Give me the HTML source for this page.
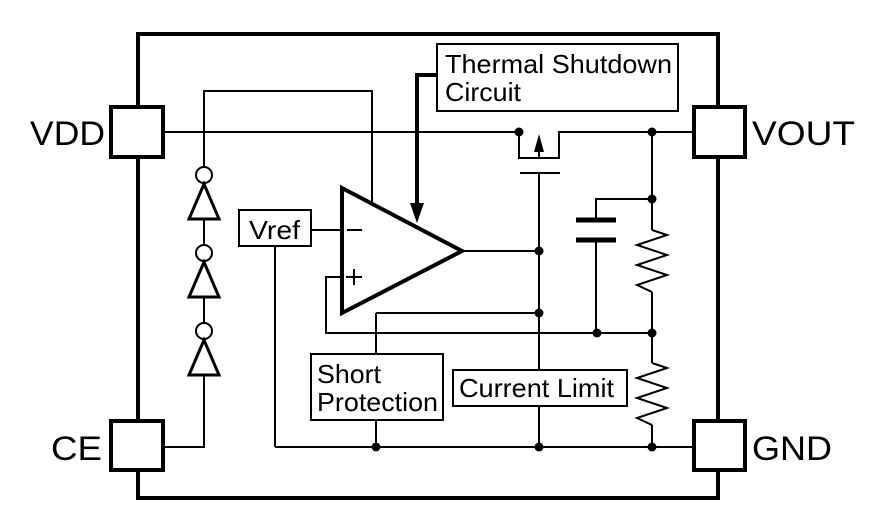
<!DOCTYPE html>
<html><head><meta charset="utf-8"><style>
html,body{margin:0;padding:0;background:#fff;}
svg{display:block;}
text{font-family:"Liberation Sans",Arial,sans-serif;fill:#000;}
</style></head><body>
<svg width="880" height="525" viewBox="0 0 880 525" xmlns="http://www.w3.org/2000/svg">
<g fill="none" stroke="#000">
<rect x="138" y="34" width="580" height="464" stroke-width="4"/>
<rect x="111" y="107" width="52" height="50" stroke-width="4" fill="#fff"/>
<rect x="111" y="421" width="52" height="49" stroke-width="4" fill="#fff"/>
<rect x="694" y="107" width="51" height="50" stroke-width="4" fill="#fff"/>
<rect x="694" y="421" width="51" height="49" stroke-width="4" fill="#fff"/>
<g stroke-width="2">
<line x1="163" y1="132" x2="519" y2="132"/>
<polyline points="519,132 519,158 559,158 559,132 694,132"/>
<line x1="539" y1="150" x2="539" y2="158"/>
<line x1="520" y1="173" x2="560" y2="173"/>
<line x1="539" y1="173" x2="539" y2="447"/>
<polyline points="204,167 204,91 372,91 372,204"/>
<line x1="204" y1="219" x2="204" y2="245"/>
<line x1="204" y1="297" x2="204" y2="323"/>
<polyline points="204,375 204,447 163,447"/>
<line x1="311" y1="230" x2="342" y2="230"/>
<line x1="275" y1="246" x2="275" y2="447"/>
<line x1="275" y1="447" x2="694" y2="447"/>
<polyline points="342,277 326,277 326,333 652,333"/>
<line x1="462" y1="251" x2="539" y2="251"/>
<line x1="376" y1="313" x2="539" y2="313"/>
<line x1="376" y1="313" x2="376" y2="354"/>
<line x1="376" y1="420" x2="376" y2="447"/>
<line x1="652" y1="132" x2="652" y2="230"/>
<polyline points="652,230 667,235 637,245 667,255 637,265 667,275 637,285 652,292"/>
<line x1="652" y1="292" x2="652" y2="363"/>
<polyline points="652,363 667,368 637,378 667,388 637,398 667,408 637,418 652,425"/>
<line x1="652" y1="425" x2="652" y2="447"/>
<polyline points="652,199 596,199 596,220"/>
<line x1="596" y1="240" x2="596" y2="333"/>
<line x1="347" y1="230" x2="362" y2="230"/>
<line x1="346" y1="277" x2="362" y2="277"/>
<line x1="354" y1="269" x2="354" y2="285"/>
<rect x="239" y="210" width="72" height="36" fill="#fff"/>
<rect x="437" y="44" width="241" height="67" fill="#fff"/>
<rect x="311" y="354" width="132" height="66" fill="#fff"/>
<rect x="453" y="370" width="174" height="36" fill="#fff"/>
<circle cx="204" cy="175" r="8"/>
<circle cx="204" cy="253" r="8"/>
<circle cx="204" cy="331" r="8"/>
</g>
<line x1="576" y1="220" x2="616" y2="220" stroke-width="5"/>
<line x1="576" y1="240" x2="616" y2="240" stroke-width="5"/>
<polygon points="204,184 189,219 219,219" stroke-width="3"/>
<polygon points="204,262 189,297 219,297" stroke-width="3"/>
<polygon points="204,340 189,375 219,375" stroke-width="3"/>
<polygon points="342,188 342,313 462,251" stroke-width="4"/>
<polyline points="437,75 417,75 417,205" stroke-width="4"/>
</g>
<polygon points="410,203 424,203 417,223" fill="#000"/>
<polygon points="539,134 534,152 544,152" fill="#000"/>
<g fill="#000">
<circle cx="519" cy="132" r="4.5"/><circle cx="652" cy="132" r="4.5"/>
<circle cx="652" cy="199" r="4.5"/><circle cx="539" cy="251" r="4.5"/>
<circle cx="539" cy="313" r="4.5"/><circle cx="597" cy="333" r="4.5"/>
<circle cx="652" cy="333" r="4.5"/><circle cx="376" cy="447" r="4.5"/>
<circle cx="539" cy="447" r="4.5"/><circle cx="652" cy="447" r="4.5"/>
</g>
<text x="30" y="145" font-size="34" textLength="75" lengthAdjust="spacingAndGlyphs">VDD</text>
<text x="51" y="460" font-size="34" textLength="51" lengthAdjust="spacingAndGlyphs">CE</text>
<text x="752" y="145" font-size="34" textLength="103" lengthAdjust="spacingAndGlyphs">VOUT</text>
<text x="752" y="460" font-size="34" textLength="80" lengthAdjust="spacingAndGlyphs">GND</text>
<text x="249" y="239" font-size="26" textLength="51" lengthAdjust="spacingAndGlyphs">Vref</text>
<text x="445" y="73" font-size="26" textLength="227" lengthAdjust="spacingAndGlyphs">Thermal Shutdown</text>
<text x="445" y="101" font-size="26" textLength="76" lengthAdjust="spacingAndGlyphs">Circuit</text>
<text x="317" y="383" font-size="26" textLength="64" lengthAdjust="spacingAndGlyphs">Short</text>
<text x="317" y="411" font-size="26" textLength="121" lengthAdjust="spacingAndGlyphs">Protection</text>
<text x="459" y="397" font-size="26" textLength="155" lengthAdjust="spacingAndGlyphs">Current Limit</text>
</svg>
</body></html>
